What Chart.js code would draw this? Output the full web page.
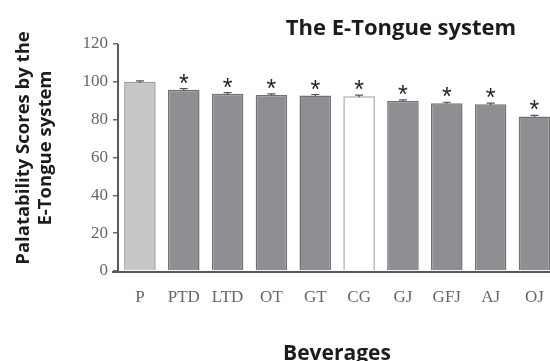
<!DOCTYPE html>
<html>
<head>
<meta charset="utf-8">
<script src="https://cdn.jsdelivr.net/npm/chart.js@4.4.1/dist/chart.umd.min.js"></script>
<style>
  html, body { margin: 0; padding: 0; background: #ffffff; overflow: hidden; }
  #wrap { width: 560px; height: 361px; }
</style>
</head>
<body>
<div id="wrap"><canvas id="chart" width="560" height="361"></canvas></div>
<script>
// Beverage palatability scores measured by the electronic tongue
const beverages = ['P', 'PTD', 'LTD', 'OT', 'GT', 'CG', 'GJ', 'GFJ', 'AJ', 'OJ'];
const scores = [100.0, 95.8, 93.7, 93.1, 92.8, 92.4, 89.9, 88.7, 88.1, 81.7];
const errors = [0.5, 0.6, 0.6, 0.5, 0.5, 0.6, 0.6, 0.5, 0.6, 0.6];
const significance = ['', '*', '*', '*', '*', '*', '*', '*', '*', '*'];
const yTicks = [0, 20, 40, 60, 80, 100, 120];

const fillFor = b => b === 'P' ? '#c7c7c9' : (b === 'CG' ? '#ffffff' : '#8f8f93');
const edgeFor = b => b === 'P' ? '#9a9a9c' : (b === 'CG' ? '#a9a9ab' : '#727275');

// Error whiskers and significance asterisks above each bar
const annotate = {
  id: 'annotate',
  afterDatasetsDraw(chart) {
    const ctx = chart.ctx;
    const y = chart.scales.y;
    const meta = chart.getDatasetMeta(0);
    ctx.save();
    meta.data.forEach((bar, i) => {
      const cx = bar.x;
      const hi = y.getPixelForValue(scores[i] + errors[i]);
      const lo = y.getPixelForValue(scores[i] - errors[i]);
      ctx.strokeStyle = '#555558';
      ctx.lineWidth = 1.2;
      ctx.beginPath();
      ctx.moveTo(cx, lo); ctx.lineTo(cx, hi);
      ctx.moveTo(cx - 4, hi); ctx.lineTo(cx + 4, hi);
      ctx.stroke();
      if (significance[i]) {
        ctx.fillStyle = '#262626';
        ctx.font = '25px "Liberation Sans"';
        ctx.textAlign = 'center';
        ctx.textBaseline = 'alphabetic';
        ctx.fillText(significance[i], cx, hi + 3);
      }
    });
    ctx.restore();
  },
  afterDraw(chart) {
    const ctx = chart.ctx;
    const a = chart.chartArea;
    ctx.save();
    // axis lines
    ctx.strokeStyle = '#58585a';
    ctx.lineWidth = 2;
    ctx.beginPath();
    ctx.moveTo(a.left, a.top);
    ctx.lineTo(a.left, a.bottom + 1);
    ctx.moveTo(a.left - 6, a.bottom + 1);
    ctx.lineTo(chart.width, a.bottom + 1);
    ctx.stroke();
    // titles
    ctx.fillStyle = '#1c1c1c';
    ctx.textAlign = 'center';
    ctx.textBaseline = 'alphabetic';
    ctx.font = 'bold 22px "Open Sans"';
    ctx.fillText('The E-Tongue system', 401, 35);
    ctx.font = 'bold 21px "Open Sans"';
    ctx.fillText('Beverages', 337, 360);
    ctx.save();
    ctx.translate(0, 148);
    ctx.rotate(-Math.PI / 2);
    ctx.font = 'bold 18.5px "Open Sans"';
    ctx.fillText('Palatability Scores by the', 0, 29);
    ctx.fillText('E-Tongue system', 0, 51);
    ctx.restore();
    ctx.restore();
  }
};

new Chart(document.getElementById('chart'), {
  type: 'bar',
  data: {
    labels: beverages,
    datasets: [{
      data: scores,
      backgroundColor: beverages.map(fillFor),
      borderColor: beverages.map(edgeFor),
      borderWidth: 1.5,
      borderSkipped: 'bottom',
      categoryPercentage: 0.8,
      barPercentage: 0.9
    }]
  },
  options: {
    responsive: false,
    animation: false,
    events: [],
    layout: { padding: { top: 44, right: 2, left: 0, bottom: 0 } },
    plugins: { legend: { display: false }, tooltip: { enabled: false }, title: { display: false } },
    scales: {
      x: {
        grid: { display: false, drawTicks: false },
        border: { display: false },
        ticks: { color: '#666666', font: { family: '"Liberation Serif"', size: 17 }, padding: 16 },
        afterFit: s => { s.height = 90; }
      },
      y: {
        min: 0,
        max: 120,
        afterBuildTicks: s => { s.ticks = yTicks.map(v => ({ value: v })); },
        grid: { drawOnChartArea: false, tickLength: 5, color: '#6a6a6a', lineWidth: 1.5 },
        border: { display: false },
        ticks: { color: '#666666', font: { family: '"Liberation Serif"', size: 17 }, padding: 5 },
        afterFit: s => { s.width = 118; }
      }
    }
  },
  plugins: [annotate]
});
</script>
</body>
</html>
